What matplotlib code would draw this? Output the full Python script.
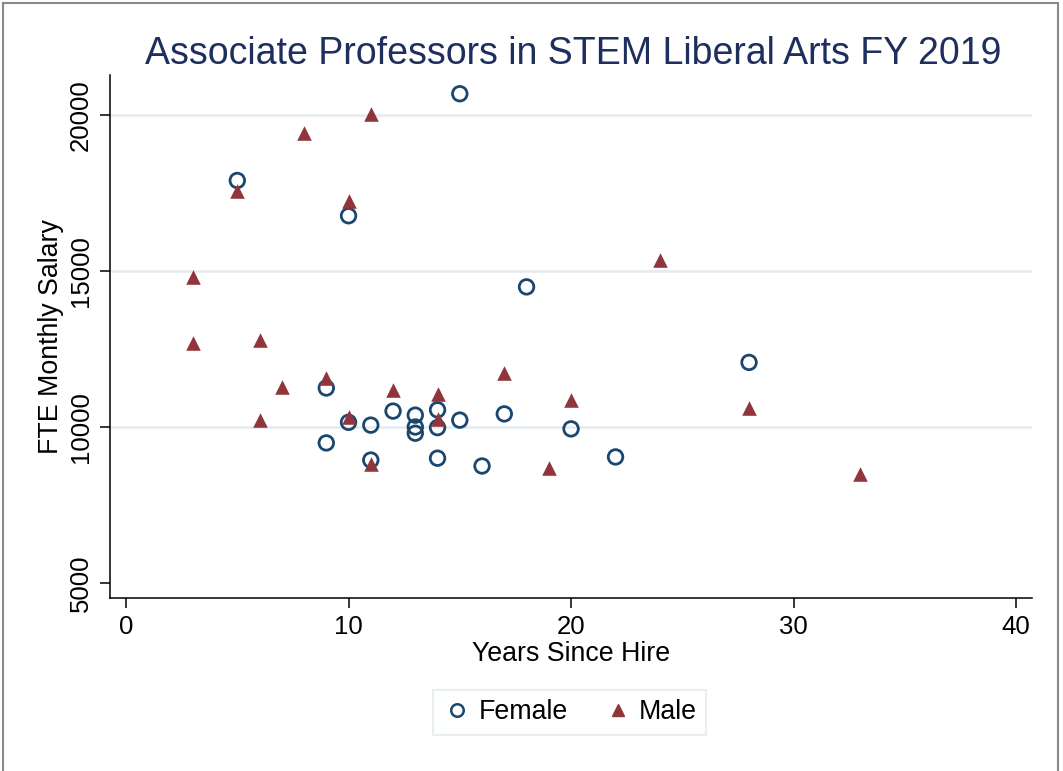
import matplotlib

matplotlib.use("Agg")
import matplotlib.pyplot as plt
from matplotlib.patches import Rectangle
from matplotlib.lines import Line2D

plt.rcParams["font.family"] = ["Liberation Sans", "DejaVu Sans"]

# Female: years since hire, monthly salary
female_years = [5, 15, 10, 18, 28, 9, 9, 10, 11, 11, 12, 13, 13, 13, 14, 14, 14, 15, 16, 17, 20, 22]
female_salary = [17900, 20680, 16770, 14490, 12070, 11250, 9490, 10150, 10060, 8940, 10510,
                 10380, 10000, 9800, 10550, 9980, 9000, 10220, 8750, 10420, 9940, 9040]

# Male
male_years = [3, 3, 5, 6, 6, 7, 8, 9, 10, 10, 11, 11, 12, 14, 14, 17, 19, 20, 24, 28, 33]
male_salary = [14800, 12690, 17560, 12790, 10220, 11280, 19420, 11570, 17250, 10320, 20030,
               8820, 11180, 11060, 10260, 11730, 8690, 10860, 15350, 10610, 8500]

x_ticks = [0, 10, 20, 30, 40]
y_ticks = [5000, 10000, 15000, 20000]
grid_levels = [10000, 15000, 20000]

female_color = "#1a476f"
male_color = "#90353b"
grid_color = "#e3ebee"
title_color = "#1e2f5e"

fig = plt.figure(figsize=(10.63, 7.71), dpi=100)
ax = fig.add_axes([0.1035, 0.2244, 0.8674, 0.6783])

ax.scatter(female_years, female_salary, s=110, facecolors="none", edgecolors=female_color,
           linewidths=2.0, marker="o", zorder=3)
ax.scatter(male_years, male_salary, s=110, color=male_color, marker="^", linewidths=0, zorder=3)

ax.set_xlim(-0.72, 40.72)
ax.set_ylim(4520, 21280)
ax.set_xticks(x_ticks)
ax.set_yticks(y_ticks)
ax.set_yticklabels([str(v) for v in y_ticks], rotation=90, va="center")
ax.tick_params(axis="both", labelsize=18.5, length=7.5, width=1.1, pad=5)

for s in ("top", "right"):
    ax.spines[s].set_visible(False)
for s in ("left", "bottom"):
    ax.spines[s].set_linewidth(1.1)

# grid lines only at the upper levels, as in the source
for lvl in grid_levels:
    ax.axhline(lvl, color=grid_color, linewidth=1.8, zorder=0)

ax.set_xlabel("Years Since Hire", fontsize=19.3, labelpad=1)
ax.set_ylabel("FTE Monthly Salary", fontsize=19.3, labelpad=3)

fig.text(0.539, 0.930, "Associate Professors in STEM Liberal Arts FY 2019",
         fontsize=27, color=title_color, ha="center", va="center")

handles = [
    Line2D([], [], linestyle="none", marker="o", markersize=9, markerfacecolor="none",
           markeredgecolor=female_color, markeredgewidth=1.8, label="Female"),
    Line2D([], [], linestyle="none", marker="^", markersize=9, color=male_color, label="Male"),
]
leg = fig.legend(handles=handles, loc="center", bbox_to_anchor=(0.536, 0.076), ncol=2,
                 fontsize=19.3, frameon=True, fancybox=False, handletextpad=0.25,
                 columnspacing=1.3, borderpad=0.35, handlelength=1.1)
leg.get_frame().set_edgecolor(grid_color)
leg.get_frame().set_linewidth(1.5)

# outer frame; bottom edge sits below the canvas like in the source
fig.patches.append(Rectangle((0.003, -0.01), 0.992, 1.006, transform=fig.transFigure,
                             fill=False, edgecolor="#8a8a8a", linewidth=1.5))

fig.savefig("out.png", dpi=100)
